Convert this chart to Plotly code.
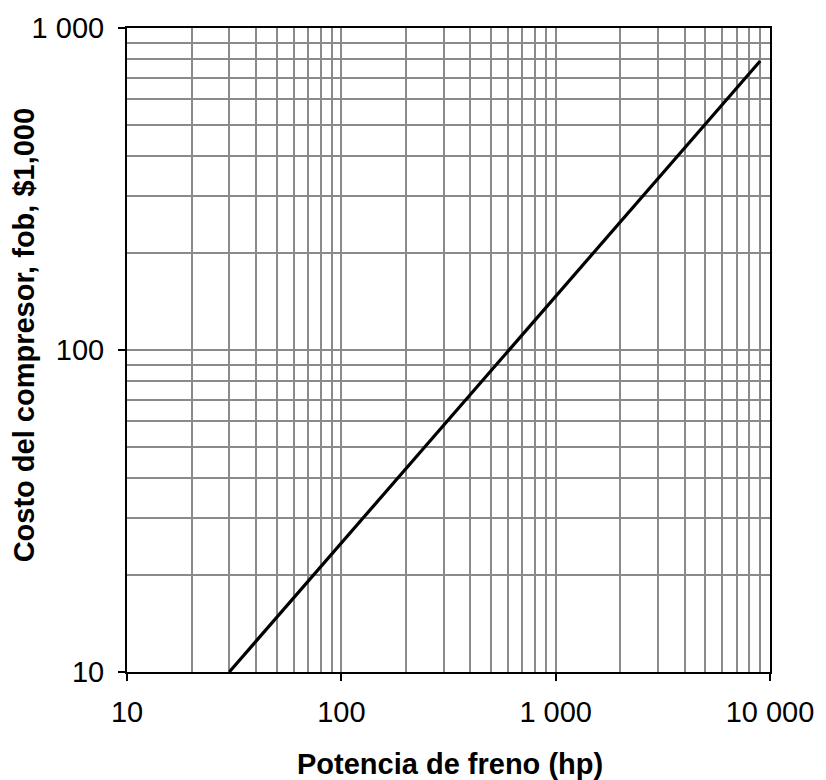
import plotly.graph_objects as go

# Compressor cost line (brake horsepower vs. FOB cost in $1,000)
potencia_hp = [30, 9000]
costo_miles = [10, 790]

x_major = [10, 100, 1000, 10000]
x_major_text = ["10", "100", "1 000", "10 000"]
y_major = [10, 100, 1000]
y_major_text = ["10", "100", "1 000"]

x_minor = [m * 10 ** e for e in (1, 2, 3) for m in range(2, 10)]
y_minor = [m * 10 ** e for e in (1, 2) for m in range(2, 10)]

FONT = "Liberation Sans, Arial, sans-serif"
GRID = "#8a8a8a"

fig = go.Figure()
fig.add_trace(go.Scatter(
    x=potencia_hp, y=costo_miles, mode="lines",
    line=dict(color="black", width=3.2), showlegend=False,
))

axis_common = dict(
    type="log", showline=True, linecolor="black", linewidth=2, mirror=True,
    ticks="outside", ticklen=7, tickwidth=1.5, tickcolor="black",
    showgrid=True, gridcolor=GRID, gridwidth=1.8, zeroline=False,
    tickfont=dict(family=FONT, size=29, color="black"),
)

fig.update_xaxes(
    range=[1, 4], tickmode="array", tickvals=x_major, ticktext=x_major_text,
    minor=dict(tickmode="array", tickvals=x_minor, showgrid=True,
               gridcolor=GRID, gridwidth=1.8, ticks=""),
    ticklabelstandoff=6,
    **axis_common,
)
fig.update_yaxes(
    range=[1, 3], tickmode="array", tickvals=y_major, ticktext=y_major_text,
    minor=dict(tickmode="array", tickvals=y_minor, showgrid=True,
               gridcolor=GRID, gridwidth=1.8, ticks=""),
    ticklabelstandoff=8,
    **axis_common,
)

fig.add_annotation(
    text="<b>Potencia de freno (hp)</b>", xref="paper", yref="paper",
    x=0.503, y=-0.143, xanchor="center", yanchor="middle", showarrow=False,
    font=dict(family=FONT, size=29, color="black"),
)
fig.add_annotation(
    text="<b>Costo del compresor, fob, $1,000</b>", xref="paper", yref="paper",
    x=-0.161, y=0.5235, xanchor="center", yanchor="middle", showarrow=False,
    textangle=-90, font=dict(family=FONT, size=29, color="black"),
)

fig.update_layout(
    width=826, height=780,
    margin=dict(l=127, r=46, t=22, b=108),
    paper_bgcolor="white", plot_bgcolor="white",
)

fig.write_html("out.html")
